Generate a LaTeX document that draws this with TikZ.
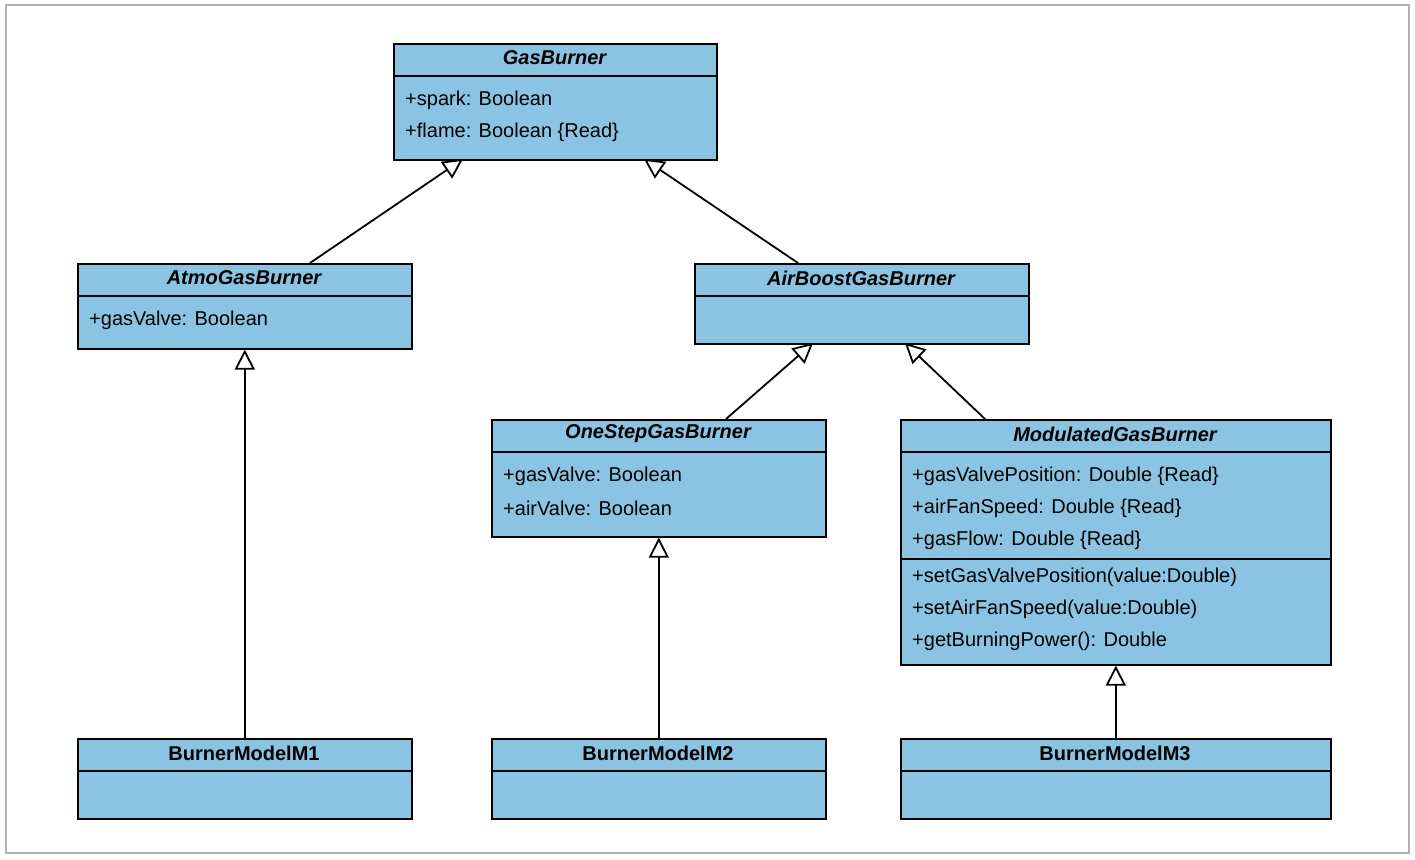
\documentclass[tikz,border=0pt]{standalone}
\usepackage{fontspec}
\setmainfont{Liberation Sans}
\usetikzlibrary{arrows.meta}
\definecolor{boxfill}{HTML}{8BC4E3}
\begin{document}
\begin{tikzpicture}[x=1pt,y=-1pt,
  box/.style={draw=black,line width=1.6pt,fill=boxfill,anchor=north west,inner sep=0pt},
  title/.style={font=\fontsize{20}{24}\selectfont\bfseries\itshape},
  ctitle/.style={font=\fontsize{20}{24}\selectfont\bfseries},
  attr/.style={font=\fontsize{20}{24}\selectfont,anchor=west,inner sep=0pt},
  gen/.style={line width=1.8pt,-{Triangle[open,length=20pt,width=20pt]}}]
\useasboundingbox (0,0) rectangle (1415,859);
\draw[draw=black!30,line width=1.6pt,fill=white] (6,5) rectangle (1409,853);
% boxes
\newcommand{\umlbox}[6]{% name,x1,y1,x2,y2,divider y
  \node[box,minimum width={(#4-#2)*1pt},minimum height={(#5-#3)*1pt}] (#1) at (#2,#3) {};
  \draw[line width=1.6pt] (#2,#6) -- (#4,#6);}
\umlbox{gas}{393}{43}{716}{159}{76}
\umlbox{atmo}{77}{263}{411}{348}{296}
\umlbox{air}{694}{263}{1028}{343}{296}
\umlbox{one}{491}{419}{825}{536}{452}
\umlbox{mod}{900}{419}{1330}{664}{452}
\draw[line width=1.6pt] (900,559) -- (1330,559);
\umlbox{m1}{77}{738}{411}{818}{771}
\umlbox{m2}{491}{738}{825}{818}{771}
\umlbox{m3}{900}{738}{1330}{818}{771}
% titles
\node[title] (tgas) at (554.5,58) {GasBurner};
\node[title] (tatmo) at (244,278) {AtmoGasBurner};
\node[title] (tair) at (861,278) {AirBoostGasBurner};
\node[title] (tone) at (658,434) {OneStepGasBurner};
\node[title] (tmod) at (1115,434) {ModulatedGasBurner};
\node[ctitle] (tm1) at (244,753) {BurnerModelM1};
\node[ctitle] (tm2) at (658,753) {BurnerModelM2};
\node[ctitle] (tm3) at (1115,753) {BurnerModelM3};
% attributes
\node[attr] (a1) at (405,100) {+spark: Boolean};
\node[attr] (a2) at (405,132) {+flame: Boolean \{Read\}};
\node[attr] (a3) at (89,320) {+gasValve: Boolean};
\node[attr] (a4) at (503,476) {+gasValve: Boolean};
\node[attr] (a5) at (503,508) {+airValve: Boolean};
\node[attr] (a6) at (912,476) {+gasValvePosition: Double \{Read\}};
\node[attr] (a7) at (912,508) {+airFanSpeed: Double \{Read\}};
\node[attr] (a8) at (912,540) {+gasFlow: Double \{Read\}};
\node[attr] (a9) at (912,577) {+setGasValvePosition(value:Double)};
\node[attr] (a10) at (912,609) {+setAirFanSpeed(value:Double)};
\node[attr] (a11) at (912,641) {+getBurningPower(): Double};
% connector endpoints
\coordinate (atmoT) at (310,263); \coordinate (gasL) at (463,159);
\coordinate (airT) at (798,263); \coordinate (gasR) at (644,159);
\coordinate (oneT) at (726,419); \coordinate (airL) at (813,343);
\coordinate (modT) at (985,419); \coordinate (airR) at (905,343);
\draw[gen] (atmoT) -- (gasL);
\draw[gen] (airT) -- (gasR);
\draw[gen] (oneT) -- (airL);
\draw[gen] (modT) -- (airR);
\draw[gen] (m1.north) -- (atmo.south);
\draw[gen] (m2.north) -- (one.south);
\draw[gen] (m3.north) -- (mod.south);
\end{tikzpicture}
\end{document}
